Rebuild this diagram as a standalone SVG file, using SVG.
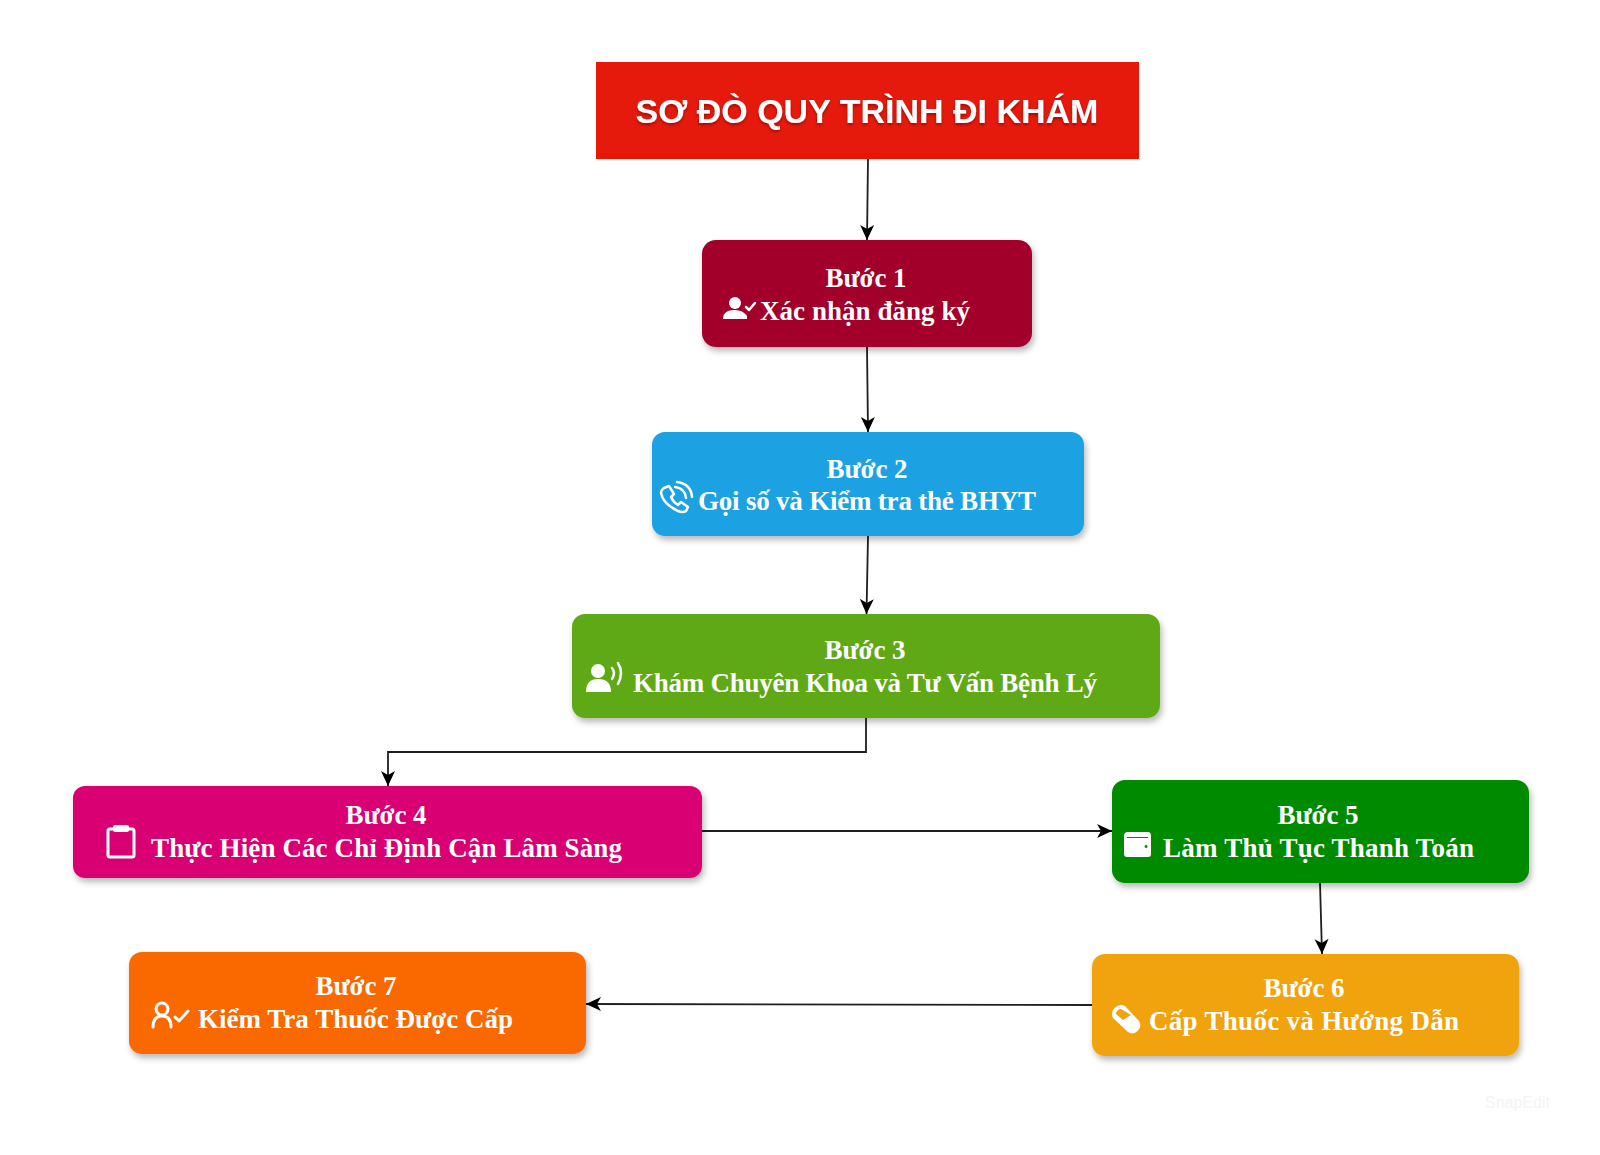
<svg xmlns="http://www.w3.org/2000/svg" width="1600" height="1155" viewBox="0 0 1600 1155">
<style>
.box{stroke-width:1;filter:url(#sh)}
.t{font-family:"Liberation Serif","Times New Roman",serif;font-weight:700;font-size:27px;fill:#fff}
.c{text-anchor:middle}
.title{font-family:"Liberation Sans",Arial,sans-serif;font-weight:700;font-size:34px;fill:#fff;text-anchor:middle;filter:url(#ts)}
.cn{fill:none;stroke:#1f1f1f;stroke-width:1.8;marker-end:url(#a)}
.i{fill:#fff}
.o{fill:none;stroke:#fff;stroke-width:3;stroke-linecap:round;stroke-linejoin:round}
</style>
<defs>
<marker id="a" markerUnits="userSpaceOnUse" markerWidth="18" markerHeight="18" refX="16" refY="9" orient="auto">
<path d="M1 2L16 9L1 16L5 9Z" fill="#000"/>
</marker>
<filter id="sh" x="-5%" y="-15%" width="110%" height="135%"><feDropShadow dx="2" dy="4" stdDeviation="3" flood-color="#000" flood-opacity=".28"/></filter>
<filter id="ts" x="-5%" y="-20%" width="110%" height="140%"><feDropShadow dx="0" dy="2" stdDeviation="1.5" flood-color="#7a0000" flood-opacity=".6"/></filter>
</defs>
<rect width="1600" height="1155" fill="#fff"/>
<g id="connectors">
<path class="cn" d="M868 159L867 240"/>
<path class="cn" d="M867 347L868 432"/>
<path class="cn" d="M868 536L866.500 614"/>
<path class="cn" d="M866 718V752H388V786"/>
<path class="cn" d="M702 831L1112 831"/>
<path class="cn" d="M1320 883L1322 954"/>
<path class="cn" d="M1092 1005L586 1004"/>
</g>
<g id="title">
<rect x="596" y="62" width="543" height="97" fill="#e51a0c"/>
<rect x="596" y="153" width="543" height="6" fill="#ea1500"/>
<text class="title" x="867" y="123">SƠ ĐÒ QUY TRÌNH ĐI KHÁM</text>
</g>
<g id="step1">
<rect class="box" x="702" y="240" width="330" height="107" rx="14" fill="#a2022c"/>
<text class="t c" x="866" y="287" textLength="81" lengthAdjust="spacing">Bước 1</text>
<text class="t" x="760" y="320" textLength="210" lengthAdjust="spacing">Xác nhận đăng ký</text>
<circle class="i" cx="735" cy="303" r="6"/><path class="i" d="M723 319q0-9 12-9q8 0 12 6v3z"/><path class="o" style="stroke-width:2.500" d="M746 307l3 3l6-7"/>
</g>
<g id="step2">
<rect class="box" x="652" y="432" width="432" height="104" rx="13" fill="#1ba1e2"/>
<text class="t c" x="867" y="478" textLength="81" lengthAdjust="spacing">Bước 2</text>
<text class="t" x="698" y="510" textLength="338" lengthAdjust="spacing">Gọi số và Kiểm tra thẻ BHYT</text>
<path class="o" style="stroke-width:2.500" d="M664 488l5-2l5 8l-3 3q2 5 7 8l3-3l7 5l-2 4q-3 2-8 0q-15-7-17-18q0-3 3-5zM675 487q10 1 11 11M677 482q14 2 15 15"/>
</g>
<g id="step3">
<rect class="box" x="572" y="614" width="588" height="104" rx="13" fill="#60a917"/>
<text class="t c" x="865" y="659" textLength="81" lengthAdjust="spacing">Bước 3</text>
<text class="t" x="633" y="692" textLength="464" lengthAdjust="spacing">Khám Chuyên Khoa và Tư Vấn Bệnh Lý</text>
<circle class="i" cx="598" cy="671" r="7"/><path class="i" d="M586 692q0-13 12-13q13 0 13 13z"/><path class="o" style="stroke-width:2.500" d="M612 668q4 5 0 11M618 663q6 10 0 21"/>
</g>
<g id="step4">
<rect class="box" x="73" y="786" width="629" height="92" rx="12" fill="#d80073"/>
<text class="t c" x="386" y="824" textLength="81" lengthAdjust="spacing">Bước 4</text>
<text class="t" x="151" y="857" textLength="471" lengthAdjust="spacing">Thực Hiện Các Chỉ Định Cận Lâm Sàng</text>
<rect x="108" y="829" width="26" height="28" rx="2" fill="none" stroke="#fff" stroke-width="3"/><rect class="i" x="113" y="825" width="16" height="7" rx="2"/>
</g>
<g id="step5">
<rect class="box" x="1112" y="780" width="417" height="103" rx="13" fill="#008a00"/>
<text class="t c" x="1318" y="824" textLength="81" lengthAdjust="spacing">Bước 5</text>
<text class="t" x="1163" y="857" textLength="311" lengthAdjust="spacing">Làm Thủ Tục Thanh Toán</text>
<path class="i" fill-rule="evenodd" d="M1124 836q0-4 4-4h20q3 0 3 4v18q0 3-3 3h-21q-3 0-3-3v-18zM1127 837v1h21v-1zM1146 845a1.500 1.500 0 1 0 .1 0z"/>
</g>
<g id="step6">
<rect class="box" x="1092" y="954" width="427" height="102" rx="13" fill="#f0a30a"/>
<text class="t c" x="1304" y="997" textLength="81" lengthAdjust="spacing">Bước 6</text>
<text class="t" x="1149" y="1030" textLength="310" lengthAdjust="spacing">Cấp Thuốc và Hướng Dẫn</text>
<path class="i" fill-rule="evenodd" d="M1125 1006l14 15a8 8 0 0 1-11 11l-15-14a9 9 0 0 1 12-12zM1121 1009a5 5 0 0 0-5 5l7 6l8-5z"/>
</g>
<g id="step7">
<rect class="box" x="129" y="952" width="457" height="102" rx="13" fill="#fa6800"/>
<text class="t c" x="356" y="995" textLength="81" lengthAdjust="spacing">Bước 7</text>
<text class="t" x="198" y="1028" textLength="315" lengthAdjust="spacing">Kiểm Tra Thuốc Được Cấp</text>
<circle class="o" cx="162" cy="1009" r="6"/><path class="o" d="M153 1027q0-11 9-11q9 0 9 11M175 1017l4 4l9-10"/>
</g>
<text x="1485" y="1108" font-family="Liberation Sans,sans-serif" font-size="16" fill="#f4f4f4">SnapEdit</text>
</svg>
